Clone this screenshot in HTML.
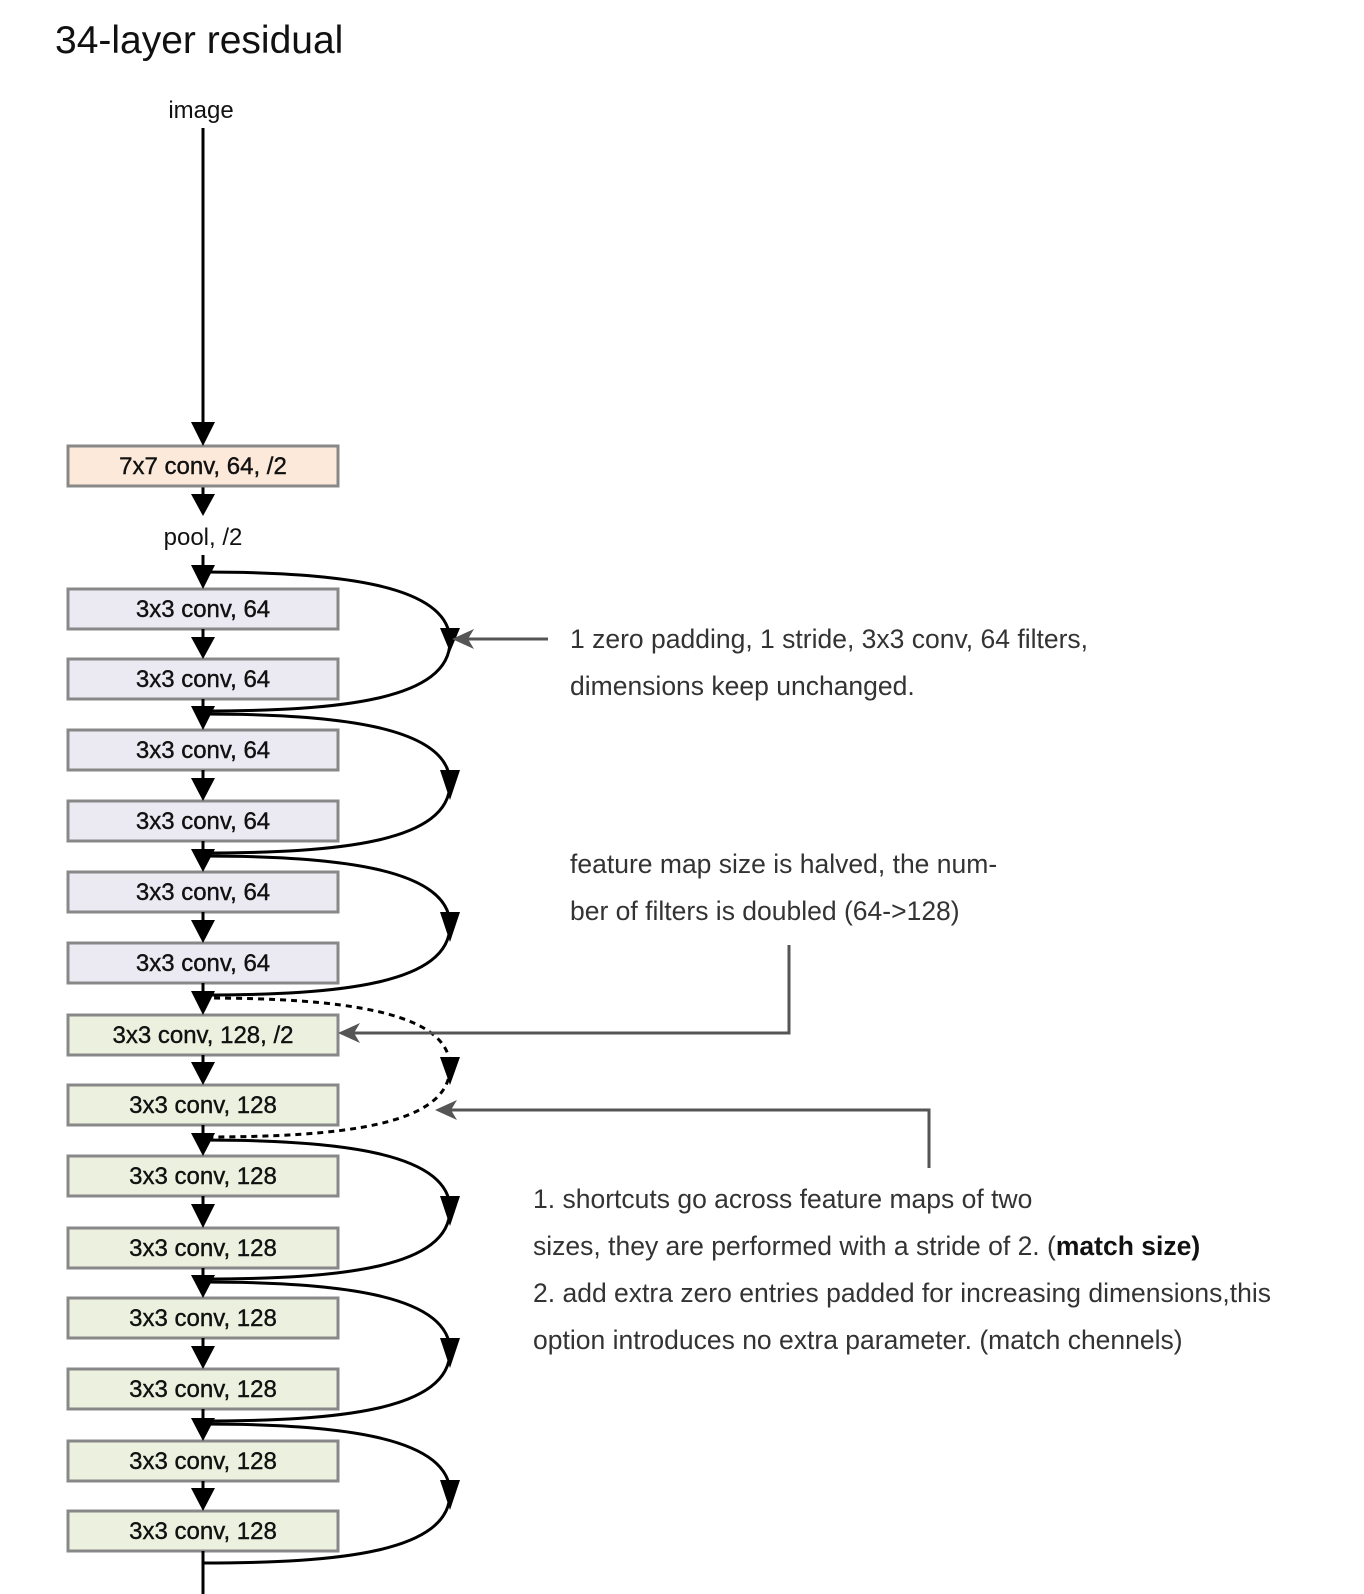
<!DOCTYPE html>
<html><head><meta charset="utf-8"><style>
body{margin:0;background:#fff;width:1364px;height:1594px;overflow:hidden;font-family:"Liberation Sans",sans-serif}
svg{position:absolute;left:0;top:0}
.t{position:absolute;font-size:26.5px;color:#333;line-height:47px}
</style></head><body>
<svg width="1364" height="1594" viewBox="0 0 1364 1594">
<text x="55" y="53" font-size="39" fill="#111" font-family="Liberation Sans">34-layer residual</text>
<text x="201" y="118" font-size="24" text-anchor="middle" fill="#111">image</text>
<text x="203" y="545" font-size="24" text-anchor="middle" fill="#111">pool, /2</text>
<g stroke="#000" stroke-width="3">
<line x1="203" y1="128" x2="203" y2="440"/>
<line x1="203" y1="487" x2="203" y2="510"/>
<line x1="203" y1="555" x2="203" y2="585"/>
</g>
<g stroke="#888" stroke-width="3">
<rect x="68" y="446" width="270" height="40" fill="#fde9d9"/>
<rect x="68" y="589" width="270" height="40" fill="#ebe9f2"/>
<rect x="68" y="659" width="270" height="40" fill="#ebe9f2"/>
<rect x="68" y="730" width="270" height="40" fill="#ebe9f2"/>
<rect x="68" y="801" width="270" height="40" fill="#ebe9f2"/>
<rect x="68" y="872" width="270" height="40" fill="#ebe9f2"/>
<rect x="68" y="943" width="270" height="40" fill="#ebe9f2"/>
<rect x="68" y="1015" width="270" height="40" fill="#ebf1de"/>
<rect x="68" y="1085" width="270" height="40" fill="#ebf1de"/>
<rect x="68" y="1156" width="270" height="40" fill="#ebf1de"/>
<rect x="68" y="1228" width="270" height="40" fill="#ebf1de"/>
<rect x="68" y="1298" width="270" height="40" fill="#ebf1de"/>
<rect x="68" y="1369" width="270" height="40" fill="#ebf1de"/>
<rect x="68" y="1441" width="270" height="40" fill="#ebf1de"/>
<rect x="68" y="1511" width="270" height="40" fill="#ebf1de"/>
</g>
<g font-size="24" text-anchor="middle" fill="#111" stroke="#111" stroke-width="0.4">
<text x="203" y="474">7x7 conv, 64, /2</text>
<text x="203" y="617">3x3 conv, 64</text>
<text x="203" y="687">3x3 conv, 64</text>
<text x="203" y="758">3x3 conv, 64</text>
<text x="203" y="829">3x3 conv, 64</text>
<text x="203" y="900">3x3 conv, 64</text>
<text x="203" y="971">3x3 conv, 64</text>
<text x="203" y="1043">3x3 conv, 128, /2</text>
<text x="203" y="1113">3x3 conv, 128</text>
<text x="203" y="1184">3x3 conv, 128</text>
<text x="203" y="1256">3x3 conv, 128</text>
<text x="203" y="1326">3x3 conv, 128</text>
<text x="203" y="1397">3x3 conv, 128</text>
<text x="203" y="1469">3x3 conv, 128</text>
<text x="203" y="1539">3x3 conv, 128</text>
</g>
<g stroke="#000" stroke-width="3">
<line x1="203" y1="629" x2="203" y2="652"/>
<line x1="203" y1="699" x2="203" y2="724"/>
<line x1="203" y1="770" x2="203" y2="795"/>
<line x1="203" y1="841" x2="203" y2="866"/>
<line x1="203" y1="912" x2="203" y2="937"/>
<line x1="203" y1="983" x2="203" y2="1009"/>
<line x1="203" y1="1055" x2="203" y2="1079"/>
<line x1="203" y1="1125" x2="203" y2="1150"/>
<line x1="203" y1="1196" x2="203" y2="1222"/>
<line x1="203" y1="1268" x2="203" y2="1292"/>
<line x1="203" y1="1338" x2="203" y2="1363"/>
<line x1="203" y1="1409" x2="203" y2="1435"/>
<line x1="203" y1="1481" x2="203" y2="1505"/>
<line x1="203" y1="1551" x2="203" y2="1594"/>
</g>
<g fill="#000">
<path d="M191,422 L215,422 L203,446 z"/>
<path d="M191,494 L215,494 L203,516 z"/>
<path d="M191,565 L215,565 L203,589 z"/>
<path d="M191,637 L215,637 L203,659 z"/>
<path d="M191,706 L215,706 L203,730 z"/>
<path d="M191,778 L215,778 L203,801 z"/>
<path d="M191,849 L215,849 L203,872 z"/>
<path d="M191,920 L215,920 L203,943 z"/>
<path d="M191,991 L215,991 L203,1015 z"/>
<path d="M191,1062 L215,1062 L203,1085 z"/>
<path d="M191,1133 L215,1133 L203,1156 z"/>
<path d="M191,1204 L215,1204 L203,1228 z"/>
<path d="M191,1275 L215,1275 L203,1298 z"/>
<path d="M191,1346 L215,1346 L203,1369 z"/>
<path d="M191,1418 L215,1418 L203,1441 z"/>
<path d="M191,1488 L215,1488 L203,1511 z"/>
</g>
<g fill="none" stroke="#000" stroke-width="3">
<path d="M203,572 C340,572 450,585 450,641 C450,700 340,711 203,711"/>
<path d="M203,714 C340,714 450,727 450,783 C450,842 340,853 203,853"/>
<path d="M203,856 C340,856 450,869 450,925 C450,984 340,995 203,995"/>
<path d="M203,998 C340,998 450,1011 450,1067 C450,1126 340,1137 203,1137" stroke-dasharray="6,5"/>
<path d="M203,1140 C340,1140 450,1153 450,1209 C450,1268 340,1279 203,1279"/>
<path d="M203,1282 C340,1282 450,1295 450,1351 C450,1410 340,1421 203,1421"/>
<path d="M203,1424 C340,1424 450,1437 450,1493 C450,1552 340,1563 203,1563"/>
</g>
<g fill="#000">
<path d="M440,628 L460,628 L450,652 z"/>
<path d="M440,770 L460,770 L450,800 z"/>
<path d="M440,912 L460,912 L450,942 z"/>
<path d="M440,1057 L460,1057 L450,1085 z"/>
<path d="M440,1196 L460,1196 L450,1226 z"/>
<path d="M440,1338 L460,1338 L450,1368 z"/>
<path d="M440,1480 L460,1480 L450,1510 z"/>
</g>
<g stroke="#555" stroke-width="3" fill="none">
<path d="M548,639 L465,639"/>
<path d="M789,945 L789,1033 L352,1033"/>
<path d="M929,1168 L929,1110 L450,1110"/>
</g>
<g fill="#555">
<path d="M452,639 L474,629 L468,639 L474,649 z"/>
<path d="M338,1033 L360,1023 L354,1033 L360,1043 z"/>
<path d="M435,1110 L457,1100 L451,1110 L457,1120 z"/>
</g>
</svg>
<div class="t" style="left:570px;top:616px">1 zero padding, 1 stride, 3x3 conv, 64 filters,<br>dimensions keep unchanged.</div>
<div class="t" style="left:570px;top:841px">feature map size is halved, the num-<br>ber of filters is doubled (64-&gt;128)</div>
<div class="t" style="left:533px;top:1176px">1. shortcuts go across feature maps of two<br>sizes, they are performed with a stride of 2. (<b style="color:#111">match size)</b><br>2. add extra zero entries padded for increasing dimensions,this<br>option introduces no extra parameter. (match chennels)</div>
</body></html>
